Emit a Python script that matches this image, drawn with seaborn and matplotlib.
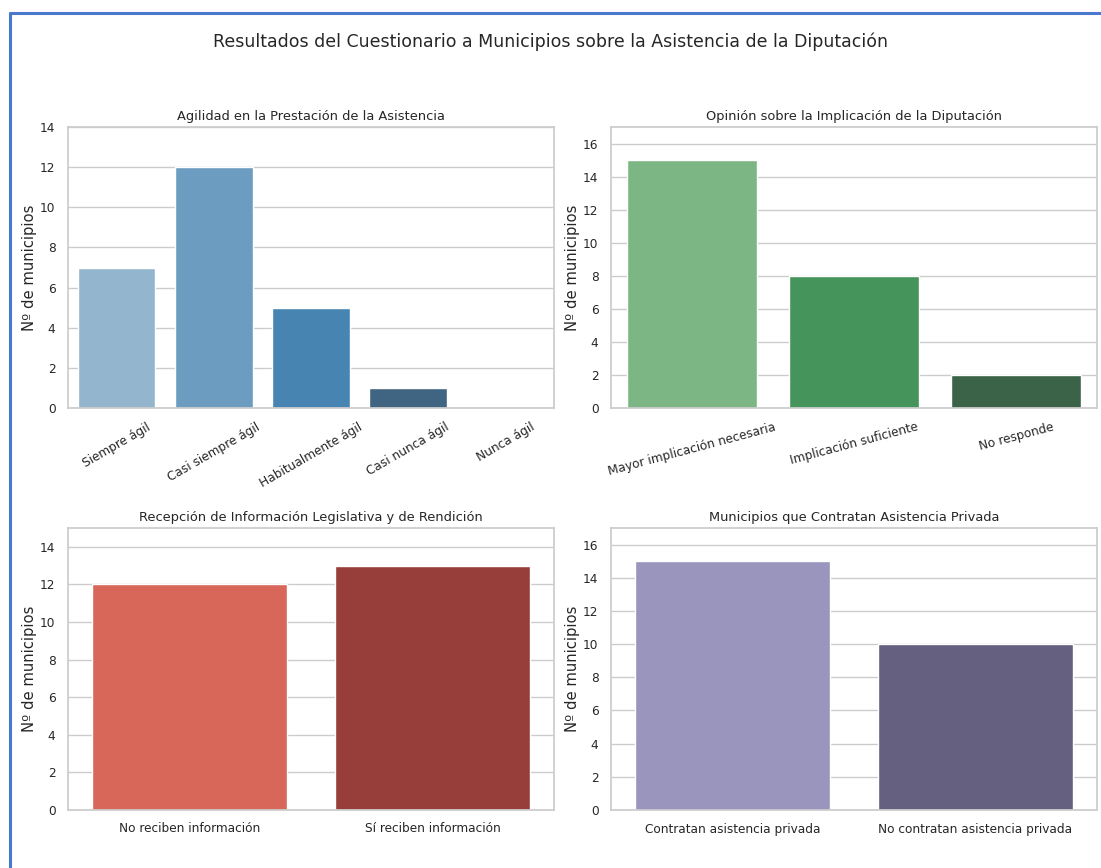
import matplotlib
matplotlib.use("Agg")
import matplotlib.pyplot as plt
import seaborn as sns
import pandas as pd
from matplotlib.lines import Line2D

# ---- data ----
agilidad_cats = ["Siempre ágil", "Casi siempre ágil", "Habitualmente ágil", "Casi nunca ágil", "Nunca ágil"]
agilidad_vals = [7, 12, 5, 1, 0]

implicacion_cats = ["Mayor implicación necesaria", "Implicación suficiente", "No responde"]
implicacion_vals = [15, 8, 2]

informacion_cats = ["No reciben información", "Sí reciben información"]
informacion_vals = [12, 13]

privada_cats = ["Contratan asistencia privada", "No contratan asistencia privada"]
privada_vals = [15, 10]

blues = ["#93b5ce", "#6c9dc0", "#4884b2", "#3f6582", "#333d45"]
greens = ["#7db685", "#44945b", "#3a6347"]
reds = ["#d86759", "#973e3a"]
purples = ["#9a95bc", "#655f80"]

suptitle = "Resultados del Cuestionario a Municipios sobre la Asistencia de la Diputación"
titles = ["Agilidad en la Prestación de la Asistencia",
          "Opinión sobre la Implicación de la Diputación",
          "Recepción de Información Legislativa y de Rendición",
          "Municipios que Contratan Asistencia Privada"]
ylabel = "Nº de municipios"

sns.set_theme(style="whitegrid")
plt.rcParams['font.family'] = ['DejaVu Sans']

W, H = 1101, 868
fig, axes = plt.subplots(2, 2, figsize=(W / 100, H / 100), dpi=100)

panels = [
    (agilidad_cats, agilidad_vals, blues, 30),
    (implicacion_cats, implicacion_vals, greens, 15),
    (informacion_cats, informacion_vals, reds, 0),
    (privada_cats, privada_vals, purples, 0),
]
positions = [
    [68 / W, (H - 408) / H, 486 / W, 281 / H],
    [611 / W, (H - 408) / H, 486 / W, 281 / H],
    [68 / W, (H - 810) / H, 486 / W, 282 / H],
    [611 / W, (H - 810) / H, 486 / W, 282 / H],
]

for ax, (cats, vals, pal, rot), title, pos in zip(axes.flat, panels, titles, positions):
    df = pd.DataFrame({"cat": cats, "val": vals})
    sns.barplot(data=df, x="cat", y="val", hue="cat", palette=pal, legend=False,
                saturation=1, ax=ax)
    ax.set_ylim(0, max(vals) + 2)
    ax.set_title(title, fontsize=9.4, color=".15", pad=5)
    ax.set_xlabel("")
    ax.set_ylabel(ylabel, fontsize=10.6, color=".15", labelpad=2)
    ax.tick_params(axis="both", labelsize=8.7, colors=".15", pad=3)
    if rot:
        for lab in ax.get_xticklabels():
            lab.set_rotation(rot)
            lab.set_ha("center")
    ax.set_position(pos)

fig.text(0.5, 1 - 42 / H, suptitle, ha="center", va="center", fontsize=12.5, color=".15")

# frame border
bc = "#4a78cf"
fig.add_artist(Line2D([9.5 / W, 9.5 / W], [0, 1 - 12.5 / H], transform=fig.transFigure,
                      color=bc, linewidth=2.2))
fig.add_artist(Line2D([9.5 / W, 1], [1 - 12.5 / H, 1 - 12.5 / H], transform=fig.transFigure,
                      color=bc, linewidth=2.2))

fig.savefig("out.png", dpi=100)
